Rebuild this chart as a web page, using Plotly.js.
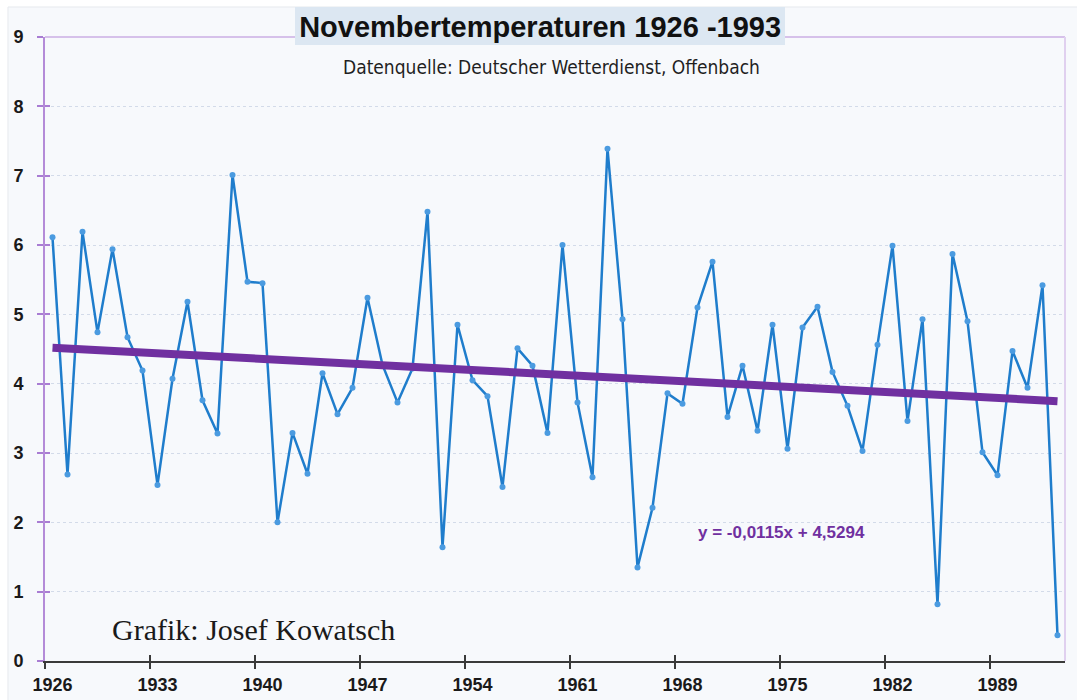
<!DOCTYPE html>
<html>
<head>
<meta charset="utf-8">
<script src="https://cdn.plot.ly/plotly-3.0.1.min.js"></script>
<style>html,body{margin:0;padding:0;background:#fff;}#chart{width:1077px;height:700px;}</style>
</head>
<body>
<div id="chart"></div>
<script>
// ---- data ----
const years = [1926,1927,1928,1929,1930,1931,1932,1933,1934,1935,1936,1937,1938,1939,1940,
  1941,1942,1943,1944,1945,1946,1947,1948,1949,1950,1951,1952,1953,1954,1955,1956,1957,1958,
  1959,1960,1961,1962,1963,1964,1965,1966,1967,1968,1969,1970,1971,1972,1973,1974,1975,1976,
  1977,1978,1979,1980,1981,1982,1983,1984,1985,1986,1987,1988,1989,1990,1991,1992,1993];
const temps = [6.11,2.69,6.19,4.74,5.94,4.67,4.19,2.54,4.07,5.18,3.76,3.28,7.01,5.47,5.45,
  2.00,3.29,2.70,4.15,3.56,3.94,5.24,4.27,3.73,4.22,6.48,1.64,4.85,4.05,3.82,2.51,4.51,4.26,
  3.29,6.00,3.73,2.65,7.39,4.93,1.35,2.21,3.86,3.71,5.10,5.76,3.52,4.26,3.32,4.85,3.06,4.81,
  5.11,4.17,3.68,3.03,4.56,5.99,3.46,4.93,0.82,5.87,4.90,3.01,2.68,4.47,3.94,5.42,0.37];
const trendYears = [1926, 1993];
const trendValues = [4.518, 3.747];
const tickYears = [1926,1933,1940,1947,1954,1961,1968,1975,1982,1989];
const tickLabels = ['1926','1933','1940','1947','1954','1961','1968','1975','1982','1989'];
const tickBoundaries = [1925.5,1932.5,1939.5,1946.5,1953.5,1960.5,1967.5,1974.5,1981.5,1988.5];
const yTicks = [0,1,2,3,4,5,6,7,8,9];
const titleText = 'Novembertemperaturen 1926 -1993';
const subtitleText = 'Datenquelle: Deutscher Wetterdienst, Offenbach';
const equationText = 'y = -0,0115x + 4,5294';
const creditText = 'Grafik: Josef Kowatsch';

const SANS = 'Liberation Sans, Arial, sans-serif';
const NARROW = 'Liberation Sans Narrow, Arial Narrow, DejaVu Sans Condensed, sans-serif';
const SERIF = 'Liberation Serif, Times New Roman, serif';
const xRange = [1925.5, 1993.5];
const yRange = [0, 9];

const traces = [
  {
    x: years, y: temps, type: 'scatter', mode: 'lines+markers',
    line: {color: '#1f7dcc', width: 2.5},
    marker: {color: '#4b9be0', size: 6, line: {width: 0}},
    hoverinfo: 'x+y', showlegend: false
  },
  {
    x: trendYears, y: trendValues, type: 'scatter', mode: 'lines',
    line: {color: '#7030a0', width: 8},
    hoverinfo: 'skip', showlegend: false
  }
];

const layout = {
  width: 1077, height: 700,
  margin: {l: 45, r: 12, t: 37, b: 39, pad: 0},
  paper_bgcolor: '#ffffff',
  plot_bgcolor: '#f8fafd',
  showlegend: false,
  title: {
    text: '<b>' + titleText + '</b>',
    font: {family: SANS, size: 29, color: '#111111'},
    x: 0.5015, xref: 'container', xanchor: 'center',
    y: 0.962, yref: 'container', yanchor: 'middle'
  },
  xaxis: {
    range: xRange, type: 'linear',
    tickmode: 'array', tickvals: tickYears, ticktext: tickLabels,
    ticks: '', showgrid: false, zeroline: false,
    showline: true, linecolor: '#3a3a3a', linewidth: 2,
    tickfont: {family: SANS, size: 18, color: '#1a1a1a', weight: 'bold'},
    ticklabelstandoff: 6, fixedrange: true
  },
  xaxis2: {
    overlaying: 'x', anchor: 'y', range: xRange, type: 'linear',
    tickmode: 'array', tickvals: tickBoundaries, ticks: 'outside', ticklen: 7, tickwidth: 2,
    tickcolor: '#3a3a3a', showticklabels: false, showgrid: false, zeroline: false, showline: false
  },
  xaxis3: {
    overlaying: 'x', anchor: 'y', range: xRange, type: 'linear',
    tickmode: 'array', tickvals: tickBoundaries, ticks: 'inside', ticklen: 6, tickwidth: 2,
    tickcolor: '#3a3a3a', showticklabels: false, showgrid: false, zeroline: false, showline: false
  },
  yaxis: {
    range: yRange, tickmode: 'array', tickvals: yTicks,
    ticks: 'outside', ticklen: 6, tickwidth: 2, tickcolor: '#a97dd3',
    showline: true, linecolor: '#b48bd8', linewidth: 2,
    showgrid: true, gridcolor: '#d3dbe9', gridwidth: 1, griddash: 'dot',
    zeroline: false,
    tickfont: {family: SANS, size: 18, color: '#1a1a1a', weight: 'bold'},
    ticklabelstandoff: 10, fixedrange: true
  },
  yaxis2: {
    overlaying: 'y', anchor: 'x', range: yRange, tickmode: 'array', tickvals: yTicks,
    ticks: 'inside', ticklen: 5, tickwidth: 2, tickcolor: '#a97dd3',
    showticklabels: false, showgrid: false, zeroline: false, showline: false
  },
  shapes: [
    {type: 'rect', xref: 'paper', yref: 'paper', x0: -0.0363, x1: 1.02, y0: -0.07, y1: 1.0481,
     fillcolor: '#f7f9fc', line: {color: '#e6e9ee', width: 1}, layer: 'below'},
    {type: 'line', xref: 'paper', yref: 'paper', x0: 0, x1: 1, y0: 1, y1: 1,
     line: {color: '#d6c1ea', width: 2}, layer: 'above'},
    {type: 'line', xref: 'paper', yref: 'paper', x0: 1, x1: 1, y0: 0, y1: 1,
     line: {color: '#e0d0ef', width: 2}, layer: 'above'},
    {type: 'rect', xref: 'paper', yref: 'paper', x0: 0.2451, x1: 0.7255, y0: 0.9872, y1: 1.0481,
     fillcolor: '#dce7f2', line: {width: 0}, layer: 'above'}
  ],
  annotations: [
    {text: subtitleText, xref: 'paper', yref: 'paper', x: 0.497, y: 0.952,
     xanchor: 'center', yanchor: 'middle', showarrow: false,
     font: {family: NARROW, size: 19, color: '#1f1f1f'}},
    {text: '<b>' + equationText + '</b>', xref: 'paper', yref: 'paper', x: 0.7216, y: 0.2067,
     xanchor: 'center', yanchor: 'middle', showarrow: false,
     font: {family: SANS, size: 17, color: '#7030a0'}},
    {text: creditText, xref: 'paper', yref: 'paper', x: 0.2049, y: 0.0497,
     xanchor: 'center', yanchor: 'middle', showarrow: false,
     font: {family: SERIF, size: 30, color: '#1a1a1a'}}
  ]
};

traces.push({x: [xRange[0]], y: [0], xaxis: 'x2', yaxis: 'y', mode: 'markers', marker: {opacity: 0}, hoverinfo: 'skip', showlegend: false});
traces.push({x: [xRange[0]], y: [0], xaxis: 'x3', yaxis: 'y2', mode: 'markers', marker: {opacity: 0}, hoverinfo: 'skip', showlegend: false});

Plotly.newPlot('chart', traces, layout, {staticPlot: true, displayModeBar: false});
</script>
</body>
</html>
